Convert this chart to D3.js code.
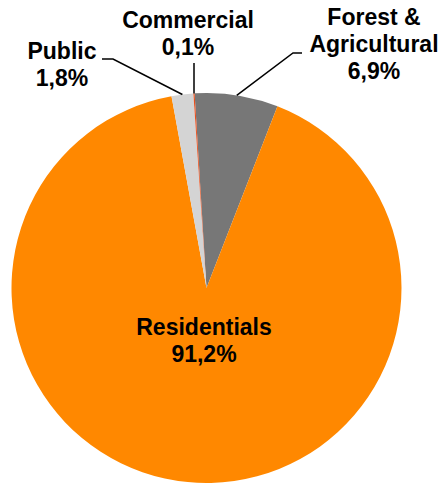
<!DOCTYPE html>
<html>
<head>
<meta charset="utf-8">
<script src="https://cdn.jsdelivr.net/npm/d3@7"></script>
<style>
  html, body { margin: 0; padding: 0; background: #fff; }
  svg { display: block; }
  text { font-family: "Liberation Sans", Arial, sans-serif; font-weight: bold; font-size: 23px; fill: #000; }
</style>
</head>
<body>
<svg id="chart" width="442" height="484"></svg>
<script>
// Data (order as drawn clockwise starting just left of 12 o'clock)
const categories = ["Forest &\nAgricultural", "Residentials", "Public", "Commercial"];
const values = [6.9, 91.2, 1.8, 0.1];
const colors = ["#777777", "#FF8800", "#D4D4D4", "#E8501E"];

// Layout
const cx = 206.5, cy = 288, radius = 195;
const startDeg = -3.5;
const fmt = v => d3.format(".1f")(v).replace(".", ",") + "%";

// label layout: anchor position (x, first baseline), leader elbow
const labelLayout = {
  "Forest &\nAgricultural": { x: 374, y: 25, elbow: [[302, 53], [293, 53]] },
  "Residentials": { x: 204, y: 335, elbow: null },
  "Public": { x: 62, y: 59, elbow: [[102, 59], [113, 59]] },
  "Commercial": { x: 188, y: 28, elbow: [[194, 63]] }
};
const lineH = 27;

const svg = d3.select("#chart");
const g = svg.append("g").attr("transform", `translate(${cx},${cy})`);

const startA = startDeg * Math.PI / 180;
const pie = d3.pie().sort(null).value(d => d.value)
  .startAngle(startA).endAngle(startA + 2 * Math.PI);
const data = categories.map((c, i) => ({ cat: c, value: values[i], color: colors[i] }));
const arcs = pie(data);
const arc = d3.arc().innerRadius(0).outerRadius(radius);

g.selectAll("path.slice").data(arcs).enter().append("path")
  .attr("class", "slice")
  .attr("d", arc)
  .attr("fill", d => d.data.color);

// leader lines
const line = d3.line();
arcs.forEach(d => {
  const L = labelLayout[d.data.cat];
  if (!L.elbow) return;
  const mid = (d.startAngle + d.endAngle) / 2;
  const px = cx + radius * Math.sin(mid);
  const py = cy - radius * Math.cos(mid);
  const pts = L.elbow.concat([[px, py]]);
  svg.append("path").attr("d", line(pts))
    .attr("fill", "none").attr("stroke", "#000").attr("stroke-width", 1.5);
});

// labels
arcs.forEach(d => {
  const L = labelLayout[d.data.cat];
  const lines = d.data.cat.split("\n").concat([fmt(d.data.value)]);
  const t = svg.append("text").attr("text-anchor", "middle");
  lines.forEach((s, i) => {
    t.append("tspan").attr("x", L.x).attr("y", L.y + i * lineH).text(s);
  });
});
</script>
</body>
</html>
